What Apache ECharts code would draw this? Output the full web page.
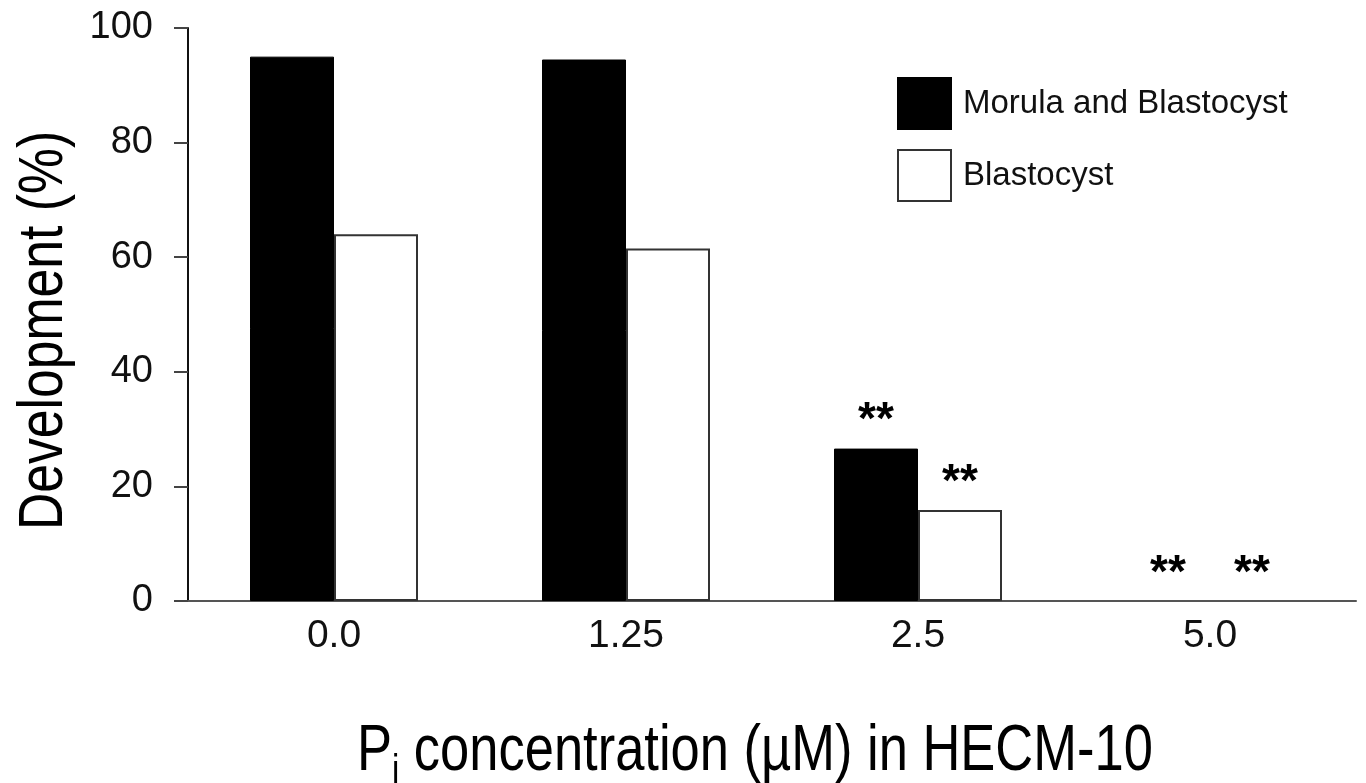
<!DOCTYPE html>
<html>
<head>
<meta charset="utf-8">
<script src="https://cdn.jsdelivr.net/npm/echarts@6/dist/echarts.min.js"></script>
<style>
  html, body { margin: 0; padding: 0; background: #fff; }
  #chart { width: 1366px; height: 783px; }
</style>
</head>
<body>
<div id="chart"></div>
<script>
// Data
let categories = ['0.0', '1.25', '2.5', '5.0'];
let morula_blastocyst = [95, 94.5, 26.6, 0];
let blastocyst = [64, 61.5, 15.9, 0];
let morula_marks = ['', '', '**', '**'];
let blastocyst_marks = ['', '', '**', '**'];
let y_ticks = [0, 20, 40, 60, 80, 100];

const FONT = "'Liberation Sans', Arial, Helvetica, sans-serif";
// The axis titles are set in a condensed face in the original
const NARROW_SCALE = 0.82;

let chart = echarts.init(document.getElementById('chart'));

let mark_label = function (marks) {
    return {
        show: true,
        position: 'top',
        distance: 4,
        fontFamily: FONT,
        fontSize: 46,
        fontWeight: 'bold',
        color: '#000',
        formatter: function (p) { return marks[p.dataIndex]; }
    };
};

/* Zero height bars should not leave a border line on the axis. */
let bar_data = function (values) {
    return values.map(function (v) {
        return v === 0 ? { value: v, itemStyle: { borderWidth: 0 } } : v;
    });
};

let options = {
    animation: false,
    backgroundColor: '#fff',
    grid: {
        left: 188,
        right: 10,
        top: 28,
        bottom: 182,
        outerBoundsMode: 'none'
    },
    legend: {
        orient: 'vertical',
        left: 897,
        top: 77,
        padding: 0,
        itemWidth: 53,
        itemHeight: 51,
        itemGap: 19,
        icon: 'rect',
        textStyle: {
            fontFamily: FONT,
            fontSize: 33,
            color: '#111',
            padding: [0, 0, 0, 7]
        }
    },
    graphic: [
        {
            type: 'text',
            x: 357,
            y: 712,
            scaleX: NARROW_SCALE,
            style: {
                text: '{p|P}{i|i}{t| concentration (µM) in HECM-10}',
                textAlign: 'left',
                textVerticalAlign: 'top',
                rich: {
                    p: { fontFamily: FONT, fontSize: 64, fill: '#000' },
                    i: { fontFamily: FONT, fontSize: 40, fill: '#000', padding: [40, 0, 0, 0] },
                    t: { fontFamily: FONT, fontSize: 64, fill: '#000' }
                }
            }
        },
        {
            type: 'text',
            x: 45,
            y: 530,
            rotation: Math.PI / 2,
            scaleX: NARROW_SCALE,
            style: {
                text: 'Development (%)',
                fontFamily: FONT,
                fontSize: 63,
                fill: '#000',
                textAlign: 'left',
                textVerticalAlign: 'middle'
            }
        }
    ],
    xAxis: {
        type: 'category',
        data: categories,
        axisLine: { lineStyle: { color: '#555', width: 2 } },
        axisTick: { length: 12, lineStyle: { color: '#222', width: 2 } },
        axisLabel: {
            margin: 16,
            fontFamily: FONT,
            fontSize: 39,
            color: '#111'
        }
    },
    yAxis: {
        type: 'value',
        min: y_ticks[0],
        max: y_ticks[y_ticks.length - 1],
        interval: 20,
        axisLine: { show: true, lineStyle: { color: '#111', width: 2 } },
        axisTick: { show: true, length: 14, lineStyle: { color: '#444', width: 2 } },
        splitLine: { show: false },
        axisLabel: {
            margin: 35,
            fontFamily: FONT,
            fontSize: 38,
            color: '#111'
        }
    },
    series: [
        {
            name: 'Morula and Blastocyst',
            type: 'bar',
            data: bar_data(morula_blastocyst),
            barWidth: 84,
            barGap: '0%',
            itemStyle: { color: '#000', borderColor: '#000', borderWidth: 1 },
            label: mark_label(morula_marks)
        },
        {
            name: 'Blastocyst',
            type: 'bar',
            data: bar_data(blastocyst),
            barWidth: 84,
            itemStyle: { color: '#fff', borderColor: '#333', borderWidth: 2 },
            label: mark_label(blastocyst_marks)
        }
    ]
};

chart.setOption(options);

window.addEventListener('resize', function () {
    chart.resize();
});
</script>
</body>
</html>
